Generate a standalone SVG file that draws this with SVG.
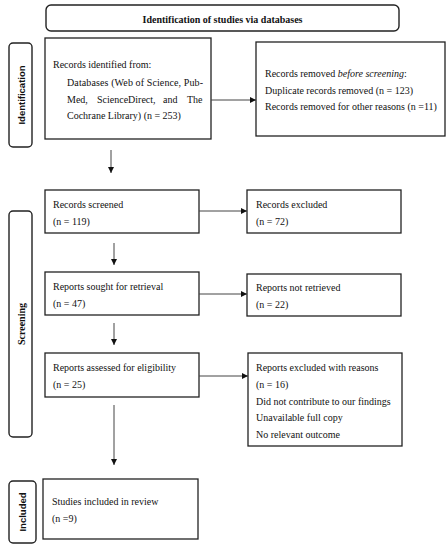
<svg xmlns="http://www.w3.org/2000/svg" width="448" height="550" viewBox="0 0 448 550">
<defs>
<marker id="ah" viewBox="0 0 10 10" refX="10" refY="5" markerWidth="6" markerHeight="6" markerUnits="userSpaceOnUse" orient="auto">
<path d="M0,0 L10,5 L0,10 z" fill="#111"/>
</marker>
<style>
.box{fill:#fff;stroke:#222;stroke-width:1.3}
.rbox{fill:#fff;stroke:#222;stroke-width:1.4}
.t{font-family:"Liberation Serif","Times New Roman",serif;font-size:10px;fill:#111}
.tb{font-family:"Liberation Serif","Times New Roman",serif;font-size:10px;font-weight:bold;fill:#111}
.side{font-family:"Liberation Sans",Arial,sans-serif;font-size:9.5px;font-weight:bold;fill:#111}
.sides{font-family:"Liberation Serif","Times New Roman",serif;font-size:10px;font-weight:bold;fill:#111}
.c{fill:none;stroke:#444;stroke-width:1;marker-end:url(#ah)}
</style>
</defs>
<rect width="448" height="550" fill="#fff"/>

<g id="title">
<rect class="rbox" x="46" y="5" width="353" height="26" rx="5"/>
<text class="tb" x="222.5" y="22.5" text-anchor="middle">Identification of studies via databases</text>
</g>

<g id="phase-identification">
<rect class="rbox" x="9" y="43" width="23" height="104" rx="4"/>
<text class="side" transform="translate(24.5,95) rotate(-90)" text-anchor="middle">Identification</text>
</g>
<g id="phase-screening">
<rect class="rbox" x="9" y="211" width="23" height="226" rx="4"/>
<text class="sides" transform="translate(24.5,324) rotate(-90)" text-anchor="middle">Screening</text>
</g>
<g id="phase-included">
<rect class="rbox" x="9" y="481" width="27" height="62" rx="4"/>
<text class="side" transform="translate(26,512) rotate(-90)" text-anchor="middle">Included</text>
</g>

<g id="records-identified">
<rect class="box" x="45" y="38" width="166" height="101"/>
<text class="t" x="53" y="67.5">Records identified from:</text>
<text class="t" x="67" y="85.5" textLength="136" lengthAdjust="spacing">Databases (Web of Science, Pub-</text>
<text class="t" y="102.5"><tspan x="67">Med,</tspan><tspan x="97">ScienceDirect,</tspan><tspan x="163">and</tspan><tspan x="187">The</tspan></text>
<text class="t" x="67" y="118.5">Cochrane Library) (n = 253)</text>
</g>

<g id="records-removed">
<rect class="box" x="256" y="42" width="189" height="94"/>
<text class="t" x="265" y="76.5">Records removed <tspan font-style="italic">before screening</tspan>:</text>
<text class="t" x="265" y="93.5">Duplicate records removed (n = 123)</text>
<text class="t" x="265" y="109.5">Records removed for other reasons (n =11)</text>
</g>

<g id="records-screened">
<rect class="box" x="45" y="190" width="154" height="43"/>
<text class="t" x="53" y="207.5">Records screened</text>
<text class="t" x="53" y="225">(n = 119)</text>
</g>

<g id="records-excluded">
<rect class="box" x="247" y="190" width="154" height="43"/>
<text class="t" x="256" y="207.5">Records excluded</text>
<text class="t" x="256" y="225">(n = 72)</text>
</g>

<g id="reports-sought">
<rect class="box" x="45" y="272" width="154" height="43"/>
<text class="t" x="53" y="290">Reports sought for retrieval</text>
<text class="t" x="53" y="307">(n = 47)</text>
</g>

<g id="reports-not-retrieved">
<rect class="box" x="247" y="274" width="154" height="42"/>
<text class="t" x="256" y="291">Reports not retrieved</text>
<text class="t" x="256" y="308">(n = 22)</text>
</g>

<g id="reports-assessed">
<rect class="box" x="45" y="353" width="154" height="44"/>
<text class="t" x="53" y="370.5">Reports assessed for eligibility</text>
<text class="t" x="53" y="387.5">(n = 25)</text>
</g>

<g id="reports-excluded">
<rect class="box" x="248" y="353" width="154" height="93"/>
<text class="t" x="256" y="370.5">Reports excluded with reasons</text>
<text class="t" x="256" y="387.5">(n = 16)</text>
<text class="t" x="256" y="404.5">Did not contribute to our findings</text>
<text class="t" x="256" y="421">Unavailable full copy</text>
<text class="t" x="256" y="437.5">No relevant outcome</text>
</g>

<g id="studies-included">
<rect class="box" x="43" y="479" width="155" height="60"/>
<text class="t" x="52" y="504.5">Studies included in review</text>
<text class="t" x="52" y="521.5">(n =9)</text>
</g>

<g id="connectors">
<line class="c" x1="211" y1="100" x2="256" y2="100"/>
<line class="c" x1="111" y1="150" x2="111" y2="173"/>
<line class="c" x1="199" y1="211" x2="247" y2="211"/>
<line class="c" x1="114" y1="243" x2="114" y2="265"/>
<line class="c" x1="199" y1="294" x2="247" y2="294"/>
<line class="c" x1="114" y1="323" x2="114" y2="345"/>
<line class="c" x1="199" y1="376" x2="248" y2="376"/>
<line class="c" x1="114" y1="405" x2="114" y2="465"/>
</g>
</svg>
